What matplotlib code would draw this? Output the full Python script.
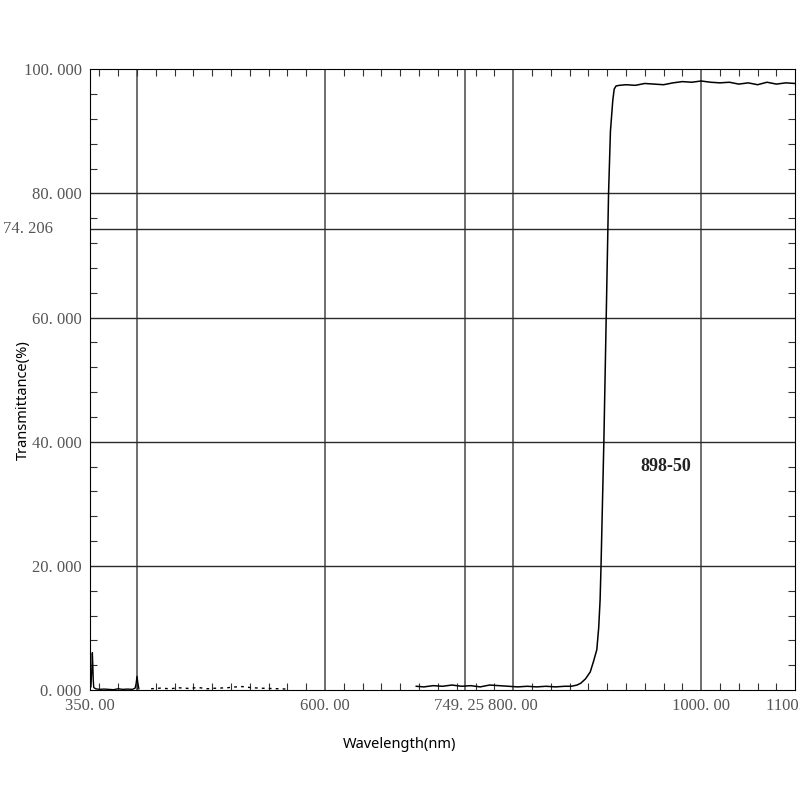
import numpy as np
import matplotlib
matplotlib.use('Agg')
import matplotlib.pyplot as plt
import matplotlib.transforms as mtransforms
from matplotlib.ticker import MultipleLocator

# UV / visible part of the scan (near zero, spike at start, bump at 400)
wl_uv = [350, 351, 352, 352.5, 353, 353.5, 354, 356, 360, 365, 370, 375, 380,
         385, 390, 395, 398, 399, 400, 401, 402]
t_uv = [0.3, 0.5, 3.5, 6.0, 4.0, 1.5, 0.4, 0.2, 0.1, 0.15, 0.1, 0.05, 0.2,
        0.1, 0.15, 0.1, 0.3, 1.0, 2.2, 1.0, 0.2]

# noisy segment drawn as broken dots
wl_noise = [415, 425, 435, 445, 455, 465, 475, 485, 495, 505, 512, 520, 530,
            540, 550, 560]
t_noise = [0.2, 0.3, 0.2, 0.35, 0.25, 0.4, 0.2, 0.3, 0.35, 0.5, 0.55, 0.4,
           0.3, 0.25, 0.2, 0.15]

# NIR part with the cut-on edge
wl_nir = [697, 705, 715, 725, 735, 745, 755, 765, 775, 785, 795, 805, 815,
          825, 835, 845, 855, 862, 868, 872, 877, 882, 885.5, 889, 891, 892.5,
          893.5, 896.5, 899, 901.5, 903.5, 906, 907.5, 909.5, 913, 920, 930,
          940, 950, 960, 970, 980, 990, 1000, 1010, 1020, 1030, 1040, 1050,
          1060, 1070, 1080, 1090, 1100]
t_nir = [0.6, 0.5, 0.7, 0.6, 0.8, 0.6, 0.7, 0.5, 0.8, 0.7, 0.6, 0.5, 0.6,
         0.5, 0.6, 0.5, 0.6, 0.6, 0.8, 1.1, 1.8, 2.9, 4.6, 6.5, 10, 14.5,
         20, 40, 60, 80, 90, 95, 96.8, 97.3, 97.4, 97.5, 97.4, 97.7, 97.6,
         97.5, 97.8, 98.0, 97.9, 98.1, 97.9, 97.8, 97.9, 97.6, 97.8, 97.5,
         97.9, 97.6, 97.8, 97.7]

xticks = [350, 600, 749.25, 800, 1000, 1100]
xtick_labels = ['350. 00', '600. 00', '749. 25', '800. 00', '1000. 00', '1100. 00']
yticks = [0, 20, 40, 60, 80, 100]
ytick_labels = ['0. 000', '20. 000', '40. 000', '60. 000', '80. 000', '100. 000']
x_grid = [400, 600, 749.25, 800, 1000]
y_grid = [20, 40, 60, 80]
y_mark = 74.206

fig = plt.figure(figsize=(8, 8), dpi=100)
ax = fig.add_axes([0.1125, 0.1375, 0.8815, 0.776])

for x in x_grid:
    ax.axvline(x, color='#6e6e6e', lw=1.4, zorder=1)
for y in y_grid + [y_mark]:
    ax.axhline(y, color='#2a2a2a', lw=1.0, zorder=1)

ax.plot(wl_uv, t_uv, color='black', lw=1.0, zorder=3)
ax.plot(wl_noise, t_noise, color='black', lw=1.0, ls=(0, (2, 3)), zorder=3)
ax.plot(wl_nir, t_nir, color='black', lw=1.1, zorder=3)

ax.set_xlim(350, 1100)
ax.set_ylim(0, 100)
ax.set_xticks(xticks)
ax.set_xticklabels(xtick_labels)
ax.set_yticks(yticks)
ax.set_yticklabels(ytick_labels)
ax.xaxis.set_minor_locator(MultipleLocator(20))
ax.yaxis.set_minor_locator(MultipleLocator(4))
ax.tick_params(which='both', direction='in', top=True, right=True,
               colors='#333333', labelcolor='#555555')
ax.tick_params(which='major', length=0, pad=6)
ax.tick_params(which='minor', length=5, width=0.8)
for lab in ax.get_xticklabels() + ax.get_yticklabels():
    lab.set_family('Liberation Serif')
    lab.set_fontsize(12)
# the 749.25 label sits a bit left of its line in the original
shift = mtransforms.ScaledTranslation(-6 / 100, 0, fig.dpi_scale_trans)
lab749 = ax.get_xticklabels()[2]
lab749.set_transform(lab749.get_transform() + shift)

fig.text(0.004, (0.1375 + 0.776 * y_mark / 100), '74. 206', ha='left',
         va='center', family='Liberation Serif', fontsize=12, color='#555555')

ax.text(962, 36, '898-50', family='Liberation Serif', fontweight='bold',
        fontsize=13, ha='center', va='center', color='#222222')

fig.text(0.029, 0.5, 'Transmittance(%)', rotation=90, ha='center', va='center',
         family='Noto Sans', fontsize=10.5)
fig.text(0.5, 0.07, 'Wavelength(nm)', ha='center', va='center',
         family='Noto Sans', fontsize=10.5)

fig.savefig('out.png', dpi=100)
